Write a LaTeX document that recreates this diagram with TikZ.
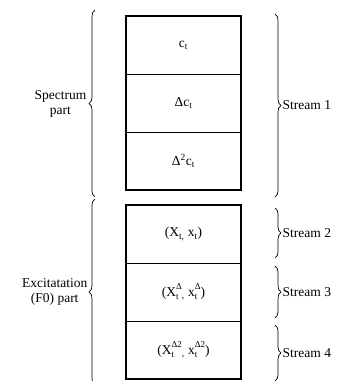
\documentclass[tikz,border=0pt]{standalone}
\usepackage{fontspec}
\setmainfont{Liberation Serif}
\usetikzlibrary{positioning,decorations.pathreplacing}
% subscript with a superscript stacked over it
\newcommand{\subsup}[2]{\rlap{\raisebox{-3.5pt}{\fontsize{9}{9}\selectfont #1}}\raisebox{6.5pt}{\fontsize{9}{9}\selectfont #2}}

\tikzset{
  cell/.style={draw,line width=0.8pt,minimum width=115pt,minimum height=58pt,inner sep=0pt,outer sep=0pt},
  frame/.style={line width=2.4pt},
  brace/.style={decorate,decoration={brace,amplitude=6pt},line width=0.7pt},
  lbl/.style={align=center}
}

\begin{document}
\begin{tikzpicture}[x=1pt,y=-1pt,font=\fontsize{13.5}{15}\selectfont]
  \useasboundingbox (0,0) rectangle (338,381);
  % spectrum cells
  \node[cell] (c) at (183.5,45) {c\textsubscript{t}};
  \node[cell,below=0pt of c] (dc) {Δc\textsubscript{t}};
  \node[cell,below=0pt of dc] (ddc) {Δ\textsuperscript{2}c\textsubscript{t}};
  \draw[frame] (c.north west) rectangle (ddc.south east);
  % excitation cells
  \node[cell] (x) at (183.5,234) {(X\textsubscript{t,} x\textsubscript{t})};
  \node[cell,below=0pt of x] (dx) {(X\subsup{t}{Δ}\textsubscript{,} x\subsup{t}{Δ})};
  \node[cell,below=0pt of dx] (ddx) {(X\subsup{t}{Δ2}\textsubscript{,} x\subsup{t}{Δ2})};
  \draw[frame] (x.north west) rectangle (ddx.south east);
  % left braces
  \draw[brace] ([xshift=-31pt,yshift=-7pt]ddc.south west) -- ([xshift=-31pt,yshift=6pt]c.north west)
    node[midway,left=5pt,lbl] (spec) {Spectrum\\part};
  \draw[brace] ([xshift=-31pt,yshift=-6pt]ddx.south west) -- ([xshift=-31pt,yshift=6pt]x.north west)
    node[midway,left=4pt,lbl] (exc) {Excitatation\\(F0) part};
  % right braces
  \draw[brace] ([xshift=34pt,yshift=2pt]c.north east) -- ([xshift=34pt,yshift=-7pt]ddc.south east)
    node[midway,right=4pt] (s1) {Stream 1};
  \draw[brace] ([xshift=34pt,yshift=-3pt]x.north east) -- ([xshift=34pt,yshift=5pt]x.south east)
    node[midway,right=4pt] (s2) {Stream 2};
  \draw[brace] ([xshift=34pt,yshift=-3pt]dx.north east) -- ([xshift=34pt,yshift=3pt]dx.south east)
    node[midway,right=4pt] (s3) {Stream 3};
  \draw[brace] ([xshift=34pt,yshift=-4pt]ddx.north east) -- ([xshift=34pt,yshift=-2pt]ddx.south east)
    node[midway,right=4pt] (s4) {Stream 4};
\end{tikzpicture}
\end{document}
